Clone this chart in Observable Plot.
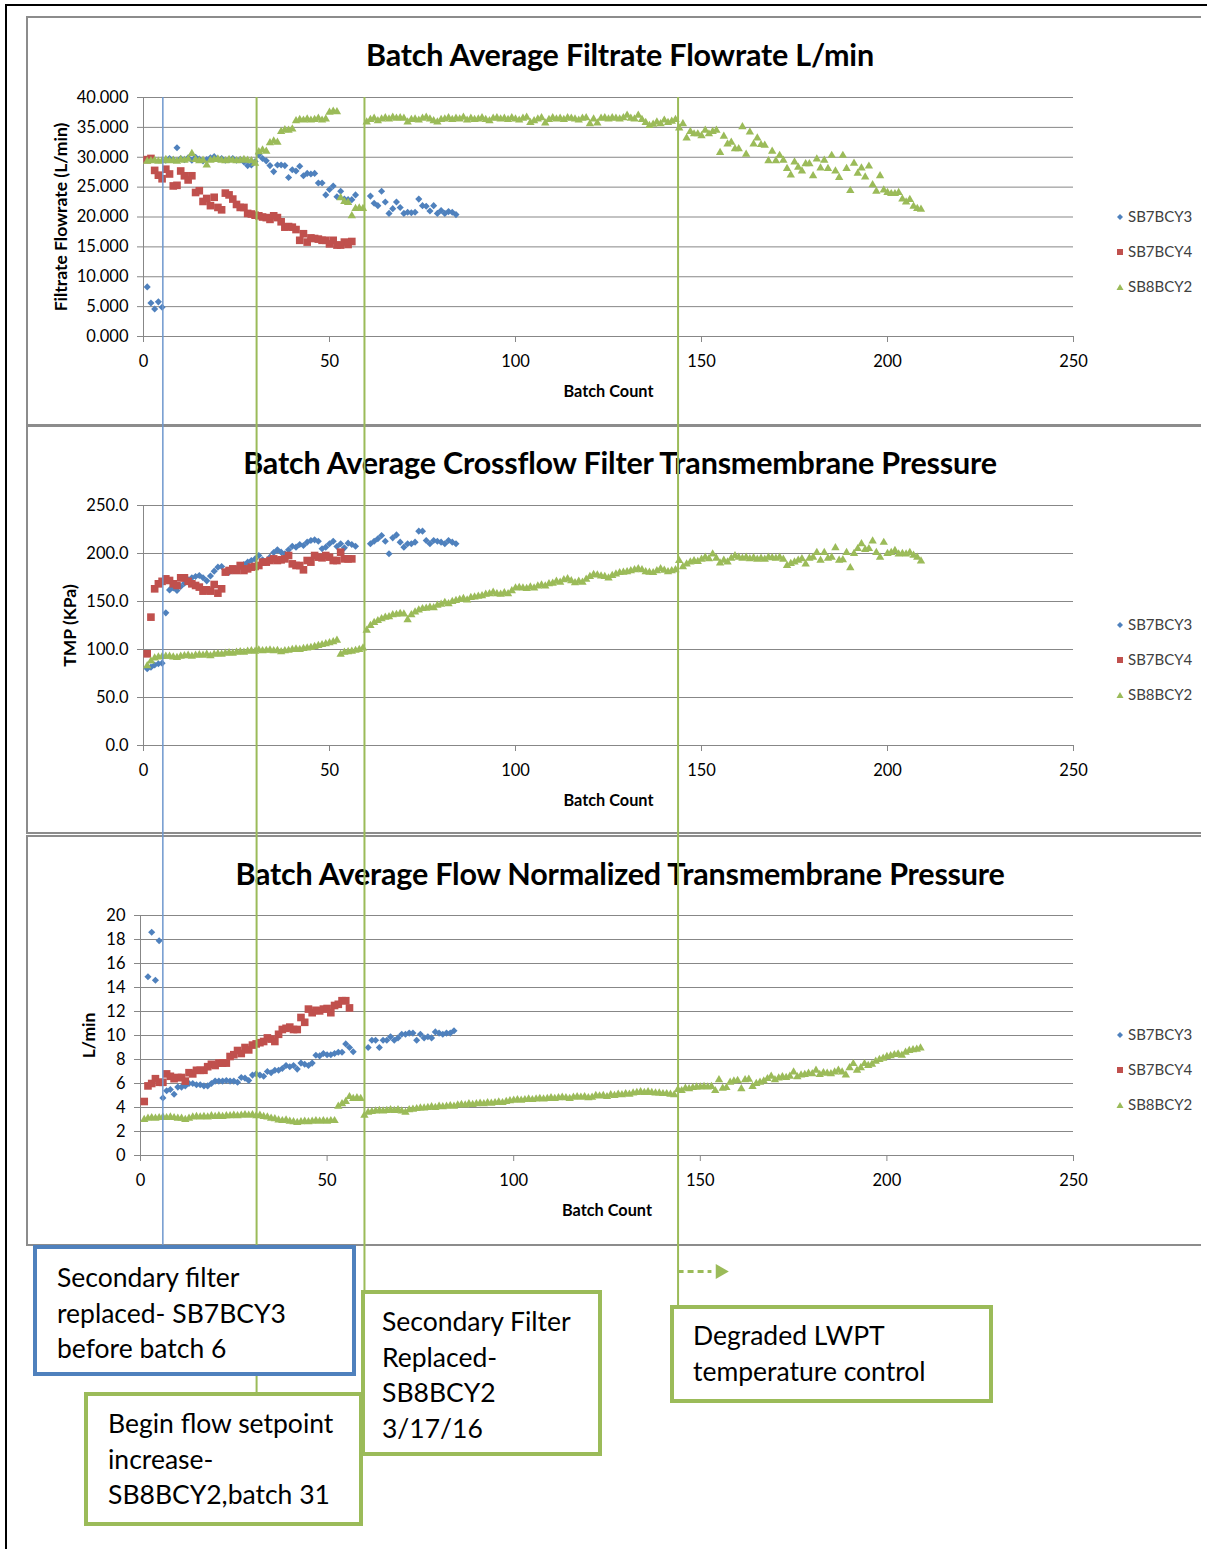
<!DOCTYPE html>
<html>
<head>
<meta charset="utf-8">
<script src="https://cdn.jsdelivr.net/npm/d3@7"></script>
<script src="https://cdn.jsdelivr.net/npm/@observablehq/plot@0.6"></script>
<style>
  body { margin: 0; background: #fff; }
  #page { position: relative; width: 1207px; height: 1549px; overflow: hidden; background: #fff; font-family: Lato, "Open Sans", sans-serif; }
  .outer { position: absolute; left: 5px; top: 4px; width: 1210px; height: 1560px; border-left: 2px solid #000; border-top: 2px solid #000; }
  .panel { position: absolute; left: 26px; width: 1175px; border: 2px solid #8c8c8c; border-right: none; box-sizing: border-box; }
  .plotwrap { position: absolute; left: 0; }
  .title { position: absolute; left: 0; width: 1240px; text-align: center; font-weight: bold; font-size: 30.5px; line-height: 36px; color: #000; letter-spacing: -0.2px; }
  .legend-row { position: absolute; left: 1116px; height: 20px; line-height: 20px; font-size: 15px; color: #404040; white-space: nowrap; }
  .legend-row svg { vertical-align: middle; margin-right: 4px; position: relative; top: -1px; }
  .note { position: absolute; background: #fff; box-sizing: border-box; font-size: 26.5px; line-height: 35.7px; color: #000; white-space: nowrap; }
  #overlay { position: absolute; left: 0; top: 0; pointer-events: none; }
</style>
</head>
<body>
<div id="page"></div>
<script>
// ---------------- data ----------------
const seriesNames = ["SB7BCY3", "SB7BCY4", "SB8BCY2"];
const xTicks = [0, 50, 100, 150, 200, 250];
const flowTicks = [0, 5, 10, 15, 20, 25, 30, 35, 40];
const tmpTicks = [0, 50, 100, 150, 200, 250];
const ntmpTicks = [0, 2, 4, 6, 8, 10, 12, 14, 16, 18, 20];

// Batch Average Filtrate Flowrate (L/min), value index = batch - 1, null = no batch
const flowSB7BCY3 = [8.3, 5.6, 4.6, 5.8, 4.9, 29.5, 29.8, 29.6, 31.6, 29.8,
  29.6, 29.9, 29.5, 30.0, 29.7, 29.4, 29.6, 29.9, 30.1, 29.7,
  29.8, 29.5, 29.6, 29.8, 29.5, 29.6, 29.2, 28.6, 28.7, 29.3,
  30.4, 29.8, 29.4, 28.6, 27.6, 28.7, 28.7, 28.6, 26.6, 27.9,
  27.7, 28.5, 26.9, 27.3, 27.2, 27.3, 25.7, 25.7, 23.7, 24.6,
  25.2, 23.4, 24.3, 23.0, 22.9, 22.9, 23.7, null, null, null,
  23.5, 22.3, 21.9, 24.3, 22.5, 20.6, 21.4, 22.5, 21.6, 20.6,
  20.8, 20.7, 20.8, 23.0, 21.9, 21.8, 21.0, 21.9, 20.6, 21.1,
  20.6, 20.9, 20.8, 20.4];
const flowSB7BCY4 = [29.6, 29.8, 27.8, 27.0, 26.4, 28.0, 27.2, 25.2, 25.3, 27.7,
  26.9, 26.2, 26.9, 24.1, 24.4, 22.6, 23.1, 21.9, 23.3, 21.6,
  21.2, 24.0, 23.7, 23.0, 22.1, 21.6, 21.6, 20.6, 20.5, 20.3,
  20.2, 20.0, 19.9, 19.6, 20.2, 19.9, 19.2, 18.3, 18.4, 18.3,
  17.9, 16.1, 17.2, 15.8, 16.5, 16.4, 16.3, 16.1, 16.1, 15.5,
  16.1, 15.3, 15.3, 15.8, 15.4, 15.9];
const flowSB8BCY2 = [29.3, 29.4, 29.5, 29.3, 29.4, 29.6, 29.4, 29.5, 29.3, 29.6,
  29.5, 29.7, 30.6, 29.6, 29.4, 29.5, 28.7, 29.5, 29.6, 29.7,
  29.5, 29.4, 29.6, 29.5, 29.4, 29.5, 29.6, 29.5, 29.4, 29.0,
  30.9, 31.2, 31.0, 32.4, 32.7, 32.5, 34.3, 34.6, 34.5, 34.7,
  36.1, 36.3, 36.2, 36.4, 36.2, 36.3, 36.5, 36.2, 36.4, 37.5,
  37.7, 37.6, 23.2, 22.6, 22.4, 20.2, 21.4, 21.5, 21.4, 35.9,
  36.3, 36.5, 36.1, 36.4, 36.6, 36.4, 36.7, 36.5, 36.6, 36.5,
  35.9, 36.3, 36.4, 36.2, 36.5, 36.7, 36.4, 36.1, 35.9, 36.3,
  36.4, 36.6, 36.3, 36.5, 36.4, 36.7, 36.2, 36.5, 36.3, 36.4,
  36.6, 36.3, 36.1, 36.5, 36.6, 36.4, 36.5, 36.3, 36.6, 36.4,
  36.2, 36.5, 36.7, 35.8, 36.1, 36.4, 36.6, 35.7, 36.3, 36.6,
  36.4, 36.5, 36.3, 36.6, 36.5, 36.4, 36.2, 36.5, 36.6, 35.6,
  36.4, 35.7, 36.5, 36.6, 36.4, 36.6, 36.5, 36.4, 36.6, 37.0,
  36.5, 36.4, 37.0, 36.3, 35.8, 35.3, 35.5, 35.9, 35.6, 36.2,
  35.8, 36.0, 36.3, 34.9, 35.6, 33.2, 34.3, 33.9, 33.9, 33.6,
  34.5, 33.9, 34.3, 34.5, 30.8, 33.5, 32.2, 32.5, 31.4, 31.4,
  35.1, 30.5, 34.2, 32.2, 33.2, 32.1, 32.0, 29.4, 31.0, 29.4,
  30.3, 29.5, 28.1, 27.0, 29.2, 28.3, 27.7, 28.9, 28.9, 26.9,
  29.7, 28.2, 29.5, 28.1, 30.3, 27.7, 26.6, 30.3, 28.1, 24.4,
  29.0, 27.3, 28.2, 26.7, 28.5, 25.4, 24.3, 26.9, 24.5, 24.1,
  23.9, 23.9, 24.1, 23.0, 22.5, 22.9, 21.8, 21.4, 21.3];

// Batch Average Crossflow Filter TMP (KPa)
const tmpSB7BCY3 = [80.0, 81.6, 83.9, 85.1, 85.8, 138.2, 162.1, 164.2, 161.5, 165.6,
  169.0, 172.6, 174.7, 176.0, 177.1, 174.7, 171.5, 176.5, 181.6, 185.8,
  186.5, 180.6, 180.6, 182.3, 184.0, 186.5, 188.5, 191.0, 192.7, 194.4,
  197.9, 193.4, 191.0, 196.2, 201.0, 203.8, 201.4, 199.7, 203.8, 207.6,
  206.6, 209.4, 208.3, 211.8, 213.5, 214.2, 212.8, 204.9, 206.6, 210.1,
  212.8, 207.3, 210.1, 205.9, 210.8, 209.4, 207.6, null, null, null,
  210.1, 212.8, 215.3, 218.8, 212.8, 199.7, 216.3, 219.4, 211.8, 206.6,
  210.1, 210.1, 211.8, 223.3, 223.3, 213.5, 210.1, 213.5, 212.8, 211.8,
  210.1, 213.5, 211.8, 210.1];
const tmpSB7BCY4 = [95.5, 133.7, 163.2, 168.4, 171.0, 173.6, 171.9, 168.4, 166.7, 174.7,
  174.7, 171.0, 168.4, 166.7, 165.0, 160.8, 162.2, 160.8, 167.7, 158.7,
  163.2, 180.6, 182.3, 184.0, 182.3, 187.5, 182.3, 184.0, 185.8, 186.5,
  187.5, 191.0, 191.0, 192.7, 194.4, 192.7, 193.4, 194.4, 197.9, 189.2,
  187.5, 187.5, 183.0, 192.7, 191.0, 197.9, 196.2, 195.5, 197.9, 196.2,
  192.7, 192.7, 201.4, 194.4, 194.4, 194.4];
const tmpSB8BCY2 = [83, 88, 91, 92, 92.5, 93, 93, 92, 91.5, 93,
  93.5, 94, 93, 94, 94.5, 94, 95, 93.5, 95, 95.5,
  95, 96, 96.5, 96, 97, 97.5, 97, 98, 98.5, 98,
  99.5, 98.5, 99, 99.5, 98.5, 99, 97.5, 98.5, 99, 100,
  100.5, 100, 101, 101.5, 102, 103, 104, 105, 106, 107,
  108, 109.5, 95, 97, 97.5, 98, 99, 100, 101.5, 120,
  125, 128, 130, 132, 133.5, 134, 136, 136.5, 137.5, 137,
  131, 136, 139, 141, 142.5, 143, 144, 143.5, 146, 147,
  149, 147.5, 150, 151, 152, 153, 151.5, 154, 154.5, 155.5,
  156, 157.5, 158, 159.5, 158, 157.5, 159, 158, 161, 164,
  164.5, 164, 163.5, 165, 164, 166, 167, 166, 168.5, 169,
  171, 170, 172.5, 173.5, 171.5, 169.5, 171, 170, 173, 176,
  178, 177.5, 176.5, 176, 174.5, 177, 178.5, 180, 180.5, 181,
  182, 183, 184, 183, 181, 180.5, 180, 182, 184, 182.5,
  181, 182, 183, 192.5, 186, 189, 191, 192.5, 191.5, 194,
  196, 194.5, 199.5, 195, 190, 193, 191, 195, 197.5, 196,
  195, 196, 194.5, 195.5, 194, 195, 194, 196, 195.5, 195,
  196, 194, 187.5, 189.5, 191, 193, 194.5, 189, 195, 196,
  201, 193, 201, 195, 196, 206, 193, 193.5, 201, 185,
  200, 205, 210, 204, 205, 213, 201, 196, 211.5, 200,
  201, 203, 199.5, 200, 199.5, 201, 198, 196, 192];

// Batch Average Flow Normalized TMP
const ntmpSB7BCY3 = [null, 14.9, 18.6, 14.6, 17.9, 4.8, 5.4, 5.5, 5.1, 5.7,
  5.7, 5.8, 6.0, 6.0, 5.9, 5.9, 5.8, 5.8, 6.0, 6.2,
  6.2, 6.2, 6.25, 6.2, 6.2, 6.1, 6.5, 6.45, 6.25, 6.7,
  6.8, 6.7, 6.6, 7.0, 6.9, 7.1, 7.1, 7.25, 7.5, 7.4,
  7.5, 7.2, 7.7, 7.6, 7.5, 7.7, 8.35, 8.3, 8.5, 8.4,
  8.4, 8.5, 8.6, 8.6, 9.3, 9.0, 8.65, null, null, null,
  9.0, 9.6, 9.6, 9.0, 9.6, 9.6, 9.9, 9.6, 9.8, 10.1,
  10.1, 10.2, 10.2, 9.6, 10.1, 9.8, 9.9, 9.8, 10.3, 10.2,
  10.1, 10.2, 10.2, 10.4];
const ntmpSB7BCY4 = [4.5, 5.8, 6.0, 6.4, 6.1, 6.1, 6.8, 6.6, 6.4, 6.5,
  6.5, 6.2, 6.9, 6.8, 7.1, 7.1, 7.1, 7.4, 7.6, 7.5,
  7.7, 7.7, 7.7, 8.25, 8.4, 8.75, 8.5, 9.0, 8.8, 9.2,
  9.3, 9.4, 9.5, 9.8, 9.7, 9.5, 10.1, 10.5, 10.6, 10.7,
  10.5, 10.5, 11.5, 11.1, 12.2, 11.9, 12.1, 12.05, 12.2, 12.25,
  11.9, 12.5, 12.6, 12.9, 12.9, 12.3];
const ntmpSB8BCY2 = [3.0, 3.1, 3.15, 3.1, 3.15, 3.2, 3.15, 3.2, 3.15, 3.1,
  3.1, 3.0, 3.1, 3.2, 3.25, 3.2, 3.25, 3.2, 3.3, 3.25,
  3.3, 3.25, 3.3, 3.3, 3.35, 3.3, 3.35, 3.4, 3.35, 3.4,
  3.3, 3.35, 3.25, 3.2, 3.1, 3.05, 2.95, 2.9, 2.95, 2.85,
  2.8, 2.75, 2.8, 2.85, 2.8, 2.85, 2.9, 2.85, 2.9, 2.85,
  2.9, 2.9, 4.1, 4.3, 4.5, 4.9, 4.75, 4.8, 4.75, 3.35,
  3.6, 3.65, 3.7, 3.75, 3.7, 3.75, 3.8, 3.75, 3.8, 3.7,
  3.6, 3.8, 3.85, 3.9, 3.95, 3.95, 4.0, 4.05, 4.0, 4.1,
  4.05, 4.1, 4.15, 4.1, 4.2, 4.25, 4.2, 4.3, 4.25, 4.3,
  4.35, 4.3, 4.4, 4.35, 4.4, 4.45, 4.4, 4.5, 4.55, 4.6,
  4.65, 4.6, 4.65, 4.7, 4.65, 4.7, 4.75, 4.7, 4.75, 4.8,
  4.75, 4.8, 4.85, 4.8, 4.75, 4.85, 4.9, 4.85, 4.9, 4.8,
  4.85, 5.0, 4.95, 5.0, 4.9, 5.05, 5.0, 5.1, 5.05, 5.15,
  5.1, 5.2, 5.25, 5.3, 5.25, 5.3, 5.25, 5.2, 5.2, 5.15,
  5.15, 5.1, 5.05, 5.5, 5.4, 5.6, 5.55, 5.65, 5.7, 5.7,
  5.75, 5.7, 5.75, 5.4, 6.3, 5.6, 5.65, 6.1, 6.2, 6.25,
  5.55, 6.3, 6.35, 5.75, 6.0, 6.1, 6.2, 6.4, 6.6, 6.3,
  6.45, 6.55, 6.5, 6.6, 6.95, 6.55, 6.7, 6.75, 6.85, 6.8,
  7.1, 6.75, 6.9, 6.85, 6.8, 6.95, 7.1, 6.95, 6.7, 7.3,
  7.65, 7.1, 7.3, 7.65, 7.5, 7.6, 7.85, 8.0, 8.1, 8.25,
  8.3, 8.4, 8.45, 8.35, 8.6, 8.75, 8.8, 8.85, 8.95];

// Events (batch position of the marker lines) and notes
const eventBatches = [5.2, 30.4, 59.4, 143.7];
const eventSeries = ["SB7BCY3", "SB8BCY2", "SB8BCY2", "SB8BCY2"];
const noteTexts = [
  ["Secondary filter", "replaced- SB7BCY3", "before batch 6"],
  ["Begin flow setpoint", "increase-", "SB8BCY2,batch 31"],
  ["Secondary Filter", "Replaced-", "SB8BCY2", "3/17/16"],
  ["Degraded LWPT", "temperature control"]
];
const arrowFrom = 143.7, arrowTo = 152.8;

// ---------------- styles / layout ----------------
const colors = {SB7BCY3: "#4F81BD", SB7BCY4: "#C0504D", SB8BCY2: "#9BBB59"};
const symbols = {SB7BCY3: "diamond2", SB7BCY4: "square", SB8BCY2: "triangle"};
const radius = {SB7BCY3: 3.2, SB7BCY4: 4.3, SB8BCY2: 3.1};
const gridColor = "#878787";
const FONT = "Lato, 'Open Sans', sans-serif";
const PAGE_W = 1207, X_RIGHT_MARGIN = 1207 - 1073;

const noteLayout = [
  {left: 33, top: 1245, width: 323, height: 131, color: "#4F81BD", padL: 20, padT: 11},
  {left: 84, top: 1392, width: 279, height: 134, color: "#9BBB59", padL: 20, padT: 10},
  {left: 361, top: 1290, width: 241, height: 166, color: "#9BBB59", padL: 17, padT: 10},
  {left: 670, top: 1305, width: 323, height: 98, color: "#9BBB59", padL: 19, padT: 9}
];
const RULE_TOP = 97;

function rows(values, series) {
  return values.map((v, i) => ({batch: i + 1, value: v, series})).filter(d => d.value != null);
}

const panels = [
  {top: 16, height: 410, mt: 81, mb: 90, ml: 143, title: "Batch Average Filtrate Flowrate L/min", titleTop: 36,
   ytitle: "Filtrate Flowrate (L/min)", ytDx: -82, ticks: flowTicks, fmt: d3.format(".3f"), domain: [0, 40],
   data: [rows(flowSB7BCY3, "SB7BCY3"), rows(flowSB7BCY4, "SB7BCY4"), rows(flowSB8BCY2, "SB8BCY2")], legendY: [216, 251, 286]},
  {top: 425, height: 409, mt: 80, mb: 89, ml: 143, title: "Batch Average Crossflow Filter Transmembrane Pressure", titleTop: 444,
   ytitle: "TMP (KPa)", ytDx: -73, ticks: tmpTicks, fmt: d3.format(".1f"), domain: [0, 250],
   data: [rows(tmpSB7BCY3, "SB7BCY3"), rows(tmpSB7BCY4, "SB7BCY4"), rows(tmpSB8BCY2, "SB8BCY2")], legendY: [624, 659, 694]},
  {top: 835, height: 411, mt: 80, mb: 91, ml: 140, title: "Batch Average Flow Normalized Transmembrane Pressure", titleTop: 855,
   ytitle: "L/min", ytDx: -51, ticks: ntmpTicks, fmt: d3.format("d"), domain: [0, 20],
   data: [rows(ntmpSB7BCY3, "SB7BCY3"), rows(ntmpSB7BCY4, "SB7BCY4"), rows(ntmpSB8BCY2, "SB8BCY2")], legendY: [1034, 1069, 1104]}
];

const page = document.getElementById("page");
const outer = document.createElement("div");
outer.className = "outer";
page.appendChild(outer);

function markerSvg(series) {
  const c = colors[series];
  let shape;
  if (series === "SB7BCY3") shape = `<polygon points="4,1 7,4 4,7 1,4" fill="${c}"/>`;
  else if (series === "SB7BCY4") shape = `<rect x="1" y="1" width="6" height="6" fill="${c}"/>`;
  else shape = `<polygon points="4,1 7.5,7 0.5,7" fill="${c}"/>`;
  return `<svg width="8" height="8" viewBox="0 0 8 8">${shape}</svg>`;
}

panels.forEach(p => {
  const box = document.createElement("div");
  box.className = "panel";
  box.style.top = p.top + "px";
  box.style.height = p.height + "px";
  page.appendChild(box);

  const marks = [
    Plot.gridY({ticks: p.ticks, stroke: gridColor, strokeOpacity: 1, strokeWidth: 1}),
    Plot.ruleX([0], {stroke: gridColor, strokeWidth: 1}),
    Plot.axisY({ticks: p.ticks, tickFormat: p.fmt, tickSize: 6, tickPadding: 9, stroke: gridColor, fill: "#000", label: null}),
    Plot.axisX({ticks: xTicks, tickSize: 6, tickPadding: 13, stroke: gridColor, fill: "#000", label: null}),
    Plot.text([p.ytitle], {frameAnchor: "left", textAnchor: "middle", dx: p.ytDx, rotate: -90, fontWeight: "bold", fontSize: 17.5, fill: "#000"}),
    Plot.text(["Batch Count"], {frameAnchor: "bottom", textAnchor: "middle", dy: 60, fontWeight: "bold", fontSize: 16.3, fill: "#000"})
  ];
  p.data.forEach(d => {
    const s = d[0].series;
    marks.push(Plot.dot(d, {x: "batch", y: "value", symbol: symbols[s], r: radius[s], fill: colors[s], stroke: "none"}));
  });

  const chart = Plot.plot({
    width: PAGE_W,
    height: p.height,
    marginLeft: p.ml,
    marginRight: X_RIGHT_MARGIN,
    marginTop: p.mt,
    marginBottom: p.mb,
    style: {background: "transparent", fontFamily: FONT, fontSize: "16.5px", color: "#000", overflow: "visible"},
    x: {domain: [0, 250]},
    y: {domain: p.domain},
    marks
  });
  const wrap = document.createElement("div");
  wrap.className = "plotwrap";
  wrap.style.top = p.top + "px";
  wrap.appendChild(chart);
  page.appendChild(wrap);

  const t = document.createElement("div");
  t.className = "title";
  t.style.top = p.titleTop + "px";
  t.textContent = p.title;
  page.appendChild(t);

  seriesNames.forEach((s, i) => {
    const row = document.createElement("div");
    row.className = "legend-row";
    row.style.top = (p.legendY[i] - 10) + "px";
    row.innerHTML = markerSvg(s) + s;
    page.appendChild(row);
  });
});

// ---------------- overlay: event lines and arrow ----------------
const events = eventBatches.map((b, i) => ({batch: b, series: eventSeries[i], top: RULE_TOP, bottom: noteLayout[i].top}));
const arrowY = 1271;
const overlay = Plot.plot({
  width: PAGE_W,
  height: 1549,
  marginLeft: 143,
  marginRight: X_RIGHT_MARGIN,
  marginTop: 0,
  marginBottom: 0,
  style: {background: "transparent", overflow: "visible"},
  x: {domain: [0, 250], axis: null},
  y: {type: "identity", axis: null},
  marks: [
    Plot.ruleX(events.filter(d => d.series === "SB7BCY3"), {x: "batch", y1: "top", y2: "bottom", stroke: "#6F98CE", strokeWidth: 1.5}),
    Plot.ruleX(events.filter(d => d.series === "SB8BCY2"), {x: "batch", y1: "top", y2: "bottom", stroke: "#9BBB59", strokeWidth: 2}),
    Plot.ruleY([arrowY], {x1: arrowFrom, x2: arrowTo, stroke: "#9BBB59", strokeWidth: 3, strokeDasharray: "6,4"}),
    Plot.dot([arrowY], {x: arrowTo + 2.2, y: d => d, symbol: "triangle", rotate: 90, r: 5.6, fill: "#9BBB59", stroke: "none"})
  ]
});
overlay.id = "overlay";
page.appendChild(overlay);

// ---------------- notes ----------------
noteTexts.forEach((lines, i) => {
  const L = noteLayout[i];
  const n = document.createElement("div");
  n.className = "note";
  Object.assign(n.style, {
    left: L.left + "px", top: L.top + "px", width: L.width + "px", height: L.height + "px",
    border: `4px solid ${L.color}`, paddingLeft: L.padL + "px", paddingTop: L.padT + "px"
  });
  n.innerHTML = lines.join("<br>");
  page.appendChild(n);
});
</script>
</body>
</html>
